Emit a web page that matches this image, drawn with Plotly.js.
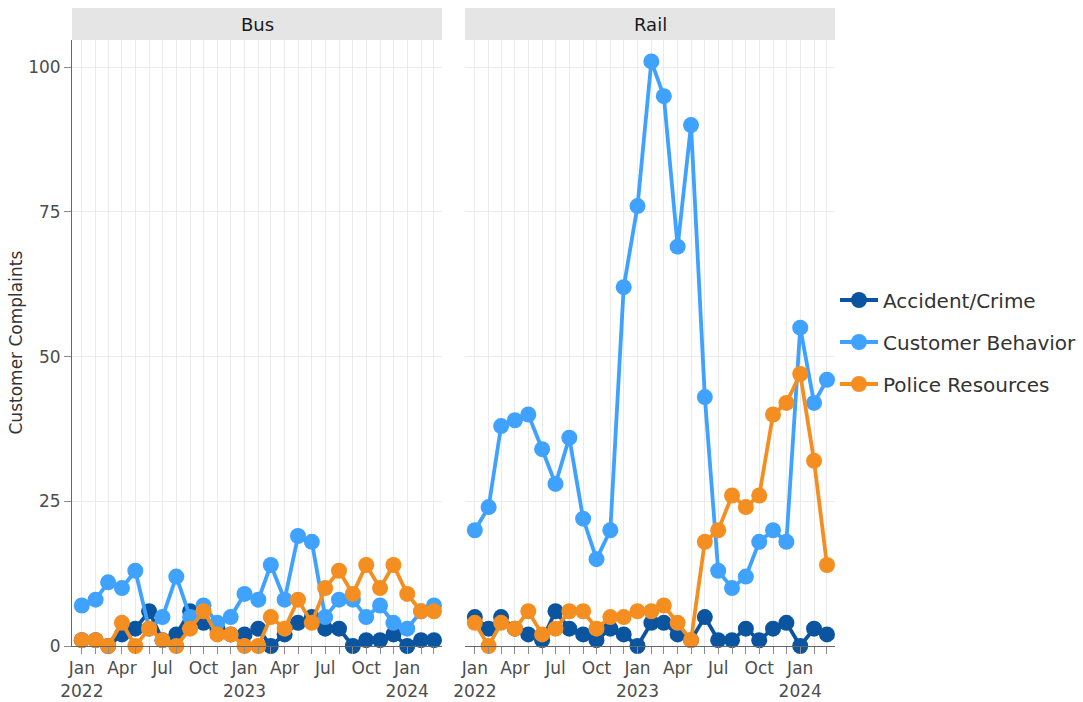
<!DOCTYPE html>
<html>
<head>
<meta charset="utf-8">
<script src="https://cdn.plot.ly/plotly-3.0.1.min.js"></script>
<style>
html, body { margin: 0; padding: 0; background: #fff; }
#chart { width: 1083px; height: 702px; }
</style>
</head>
<body>
<div id="chart"></div>
<script>
// ---- Data ----
const months = [
  '2022-01-01','2022-02-01','2022-03-01','2022-04-01','2022-05-01','2022-06-01',
  '2022-07-01','2022-08-01','2022-09-01','2022-10-01','2022-11-01','2022-12-01',
  '2023-01-01','2023-02-01','2023-03-01','2023-04-01','2023-05-01','2023-06-01',
  '2023-07-01','2023-08-01','2023-09-01','2023-10-01','2023-11-01','2023-12-01',
  '2024-01-01','2024-02-01','2024-03-01'
];
const panels = ['Bus', 'Rail'];
const seriesNames = ['Accident/Crime', 'Customer Behavior', 'Police Resources'];

const busAccident = [1,1,0,2,3,6,1,2,6,4,3,2,2,3,0,2,4,5,3,3,0,1,1,2,0,1,1];
const busCustomer = [7,8,11,10,13,3,5,12,5,7,4,5,9,8,14,8,19,18,5,8,8,5,7,4,3,6,7];
const busPolice   = [1,1,0,4,0,3,1,0,3,6,2,2,0,0,5,3,8,4,10,13,9,14,10,14,9,6,6];

const railAccident = [5,3,5,3,2,1,6,3,2,1,3,2,0,4,4,2,1,5,1,1,3,1,3,4,0,3,2];
const railCustomer = [20,24,38,39,40,34,28,36,22,15,20,62,76,101,95,69,90,43,13,10,12,18,20,18,55,42,46];
const railPolice   = [4,0,4,3,6,2,3,6,6,3,5,5,6,6,7,4,1,18,20,26,24,26,40,42,47,32,14];

const xTickVals = ['2022-01-01','2022-04-01','2022-07-01','2022-10-01','2023-01-01',
                   '2023-04-01','2023-07-01','2023-10-01','2024-01-01'];
const xTickText = ['Jan<br>2022','Apr','Jul','Oct','Jan<br>2023','Apr','Jul','Oct','Jan<br>2024'];
const yTickVals = [0, 25, 50, 75, 100];
const yTitle = 'Customer Complaints';

// ---- Styles ----
const colors = ['#0b549f', '#3fa2ff', '#f58e20'];
const FONT = 'DejaVu Sans, Verdana, sans-serif';
const TXT = '#4d4d4d';

const busData = [busAccident, busCustomer, busPolice];
const railData = [railAccident, railCustomer, railPolice];

const traces = [];
[busData, railData].forEach((set, p) => {
  set.forEach((vals, i) => {
    traces.push({
      type: 'scatter',
      mode: 'lines+markers',
      x: months,
      y: vals,
      name: seriesNames[i],
      legendgroup: seriesNames[i],
      showlegend: p === 0,
      xaxis: p === 0 ? 'x' : 'x2',
      yaxis: p === 0 ? 'y' : 'y2',
      line: { color: colors[i], width: 3.8 },
      marker: { color: colors[i], size: 16 },
      cliponaxis: false,
      hoverinfo: 'x+y+name'
    });
  });
});

const gridc = '#ebebeb';
function xAxis(domain, anchor) {
  return {
    type: 'date',
    domain: domain,
    anchor: anchor,
    range: ['2021-12-10', '2024-03-19'],
    tickmode: 'array',
    tickvals: xTickVals,
    ticktext: xTickText,
    tickangle: 0,
    ticks: 'outside',
    ticklen: 7,
    tickcolor: '#8c8c8c',
    tickwidth: 1,
    showline: true,
    linecolor: '#666',
    linewidth: 1,
    showgrid: true,
    gridcolor: gridc,
    gridwidth: 1,
    zeroline: false,
    tickfont: { family: FONT, size: 17, color: TXT },
    minor: {
      tickmode: 'linear',
      dtick: 'M1',
      tick0: '2022-01-01',
      ticks: 'outside',
      ticklen: 7,
      tickcolor: '#8c8c8c',
      showgrid: true,
      gridcolor: gridc,
      gridwidth: 1
    }
  };
}

const xd1 = [0, 370 / 763];
const xd2 = [393 / 763, 1];
const stripTop = 1 + 32 / 606;

const layout = {
  width: 1083,
  height: 702,
  margin: { l: 72, r: 248, t: 40, b: 56 },
  paper_bgcolor: '#fff',
  plot_bgcolor: '#fff',
  font: { family: FONT, color: TXT },
  showlegend: true,
  legend: {
    xref: 'container', yref: 'container',
    x: 835 / 1083, xanchor: 'left', y: 1 - 342 / 702, yanchor: 'middle',
    font: { family: FONT, size: 20, color: '#333' },
    traceorder: 'grouped',
    tracegroupgap: 13,
    itemwidth: 38,
    bgcolor: 'rgba(0,0,0,0)'
  },
  xaxis: xAxis(xd1, 'y'),
  xaxis2: xAxis(xd2, 'y2'),
  yaxis: {
    domain: [0, 1],
    anchor: 'x',
    range: [0, 104.7],
    tickvals: yTickVals,
    ticks: 'outside',
    ticklen: 7,
    tickcolor: '#8c8c8c',
    showline: true,
    linecolor: '#666',
    showgrid: true,
    gridcolor: gridc,
    zeroline: false,
    tickfont: { family: FONT, size: 17, color: TXT }
  },
  yaxis2: {
    domain: [0, 1],
    anchor: 'x2',
    matches: 'y',
    range: [0, 104.7],
    tickvals: yTickVals,
    showticklabels: false,
    ticks: '',
    showline: false,
    showgrid: true,
    gridcolor: gridc,
    zeroline: false
  },
  shapes: [
    { type: 'rect', xref: 'paper', yref: 'paper', x0: xd1[0], x1: xd1[1], y0: 1, y1: stripTop,
      fillcolor: '#e5e5e5', line: { width: 0 }, layer: 'below' },
    { type: 'rect', xref: 'paper', yref: 'paper', x0: xd2[0], x1: xd2[1], y0: 1, y1: stripTop,
      fillcolor: '#e5e5e5', line: { width: 0 }, layer: 'below' }
  ],
  annotations: [
    { text: panels[0], xref: 'paper', yref: 'paper', x: (xd1[0] + xd1[1]) / 2, y: (1 + stripTop) / 2,
      xanchor: 'center', yanchor: 'middle', showarrow: false,
      font: { family: FONT, size: 18, color: '#1a1a1a' } },
    { text: panels[1], xref: 'paper', yref: 'paper', x: (xd2[0] + xd2[1]) / 2, y: (1 + stripTop) / 2,
      xanchor: 'center', yanchor: 'middle', showarrow: false,
      font: { family: FONT, size: 18, color: '#1a1a1a' } },
    { text: yTitle, xref: 'paper', yref: 'paper', x: (15.5 - 72) / 763, y: 0.5,
      xanchor: 'center', yanchor: 'middle', textangle: -90, showarrow: false,
      font: { family: FONT, size: 17, color: '#333' } }
  ]
};

Plotly.newPlot('chart', traces, layout, { displayModeBar: false, responsive: false });
</script>
</body>
</html>
